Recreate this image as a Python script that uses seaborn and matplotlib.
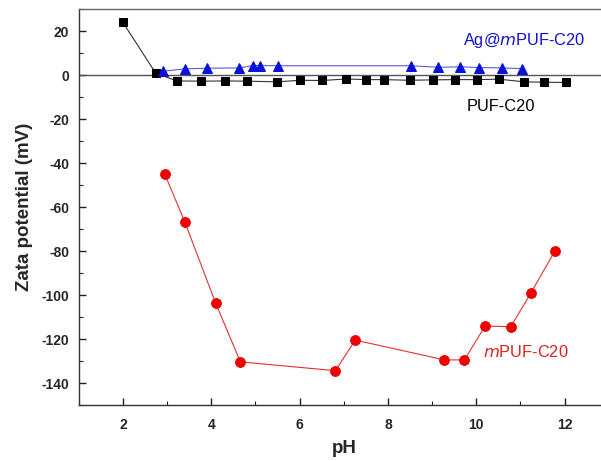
import matplotlib
matplotlib.use("Agg")
import matplotlib.pyplot as plt
from matplotlib.ticker import MultipleLocator
import seaborn as sns
import pandas as pd

# ---- data ----
puf_ph = [2.0, 2.74, 3.22, 3.77, 4.30, 4.80, 5.49, 6.01, 6.50, 7.06,
          7.51, 7.90, 8.51, 9.01, 9.52, 10.01, 10.52, 11.08, 11.53, 12.02]
puf_zeta = [24.0, 1.0, -2.6, -2.7, -2.6, -2.7, -3.0, -2.3, -2.4, -1.7,
            -2.0, -2.0, -2.3, -2.1, -2.0, -2.0, -1.8, -3.0, -3.2, -3.3]

ag_ph = [2.91, 3.40, 3.90, 4.63, 4.95, 5.11, 5.50, 8.53, 9.14, 9.62, 10.07, 10.58, 11.04]
ag_zeta = [1.8, 2.9, 3.2, 3.3, 4.4, 4.4, 4.3, 4.3, 3.6, 3.8, 3.5, 3.3, 3.0]

m_ph = [2.95, 3.40, 4.10, 4.66, 6.81, 7.26, 9.28, 9.73, 10.20, 10.78, 11.23, 11.78]
m_zeta = [-45.1, -66.6, -103.6, -130.3, -134.3, -120.4, -129.4, -129.4,
          -114.0, -114.3, -99.2, -79.9]

x_ticks = [2, 4, 6, 8, 10, 12]
y_ticks = [20, 0, -20, -40, -60, -80, -100, -120, -140]

sns.set_style("white")
plt.rcParams["font.family"] = ["Liberation Sans", "DejaVu Sans"]
plt.rcParams["axes.unicode_minus"] = False

fig = plt.figure(figsize=(6.01, 4.61), dpi=100)
ax = fig.add_axes([0.131, 0.121, 0.882, 0.859])

ax.axhline(0, color="#555555", lw=1.0, zorder=1)

df_p = pd.DataFrame({"pH": puf_ph, "z": puf_zeta})
df_a = pd.DataFrame({"pH": ag_ph, "z": ag_zeta})
df_m = pd.DataFrame({"pH": m_ph, "z": m_zeta})

sns.lineplot(data=df_p, x="pH", y="z", ax=ax, color="#333333", lw=0.8,
             marker="s", markersize=6, markerfacecolor="black",
             markeredgecolor="black", sort=False, estimator=None, zorder=3)
sns.lineplot(data=df_a, x="pH", y="z", ax=ax, color="#5a5ad8", lw=0.8,
             marker="^", markersize=7.5, markerfacecolor="#0b12d8",
             markeredgecolor="#0b12d8", sort=False, estimator=None, zorder=3)
sns.lineplot(data=df_m, x="pH", y="z", ax=ax, color="#e53030", lw=0.8,
             marker="o", markersize=7, markerfacecolor="#f00000",
             markeredgecolor="#f00000", sort=False, estimator=None, zorder=3)

ax.set_xlim(1, 13)
ax.set_ylim(-150, 30)
ax.set_xticks(x_ticks)
ax.set_yticks(y_ticks)
ax.xaxis.set_minor_locator(MultipleLocator(1))
ax.yaxis.set_minor_locator(MultipleLocator(10))
ax.tick_params(which="both", bottom=True, left=True, top=False, right=False)
ax.tick_params(which="major", direction="in", length=5, width=1,
               labelsize=10, color="#222222")
ax.tick_params(axis="x", which="major", pad=9)
ax.tick_params(axis="y", which="major", pad=7)
ax.tick_params(which="minor", direction="in", length=3, width=0.8, color="#222222")
for lbl in ax.get_xticklabels() + ax.get_yticklabels():
    lbl.set_fontweight("bold")

for s in ["left", "bottom", "top"]:
    ax.spines[s].set_color("#333333")
    ax.spines[s].set_linewidth(1.0)
ax.spines["top"].set_color("#666666")
ax.spines["right"].set_visible(False)

ax.set_xlabel("pH", fontsize=13.5, fontweight="bold", labelpad=6)
ax.set_ylabel("Zata potential (mV)", fontsize=13.5, fontweight="bold", labelpad=6)

ax.text(9.70, 15.7, r"Ag@$\it{m}$PUF-C20", color="#1010d0", fontsize=11.8,
        va="center", ha="left")
ax.text(9.78, -14.4, "PUF-C20", color="black", fontsize=11.8, va="center", ha="left")
ax.text(10.15, -126, r"$\it{m}$PUF-C20", color="#e02020", fontsize=11.8,
        va="center", ha="left")

fig.savefig("out.png", dpi=100)
